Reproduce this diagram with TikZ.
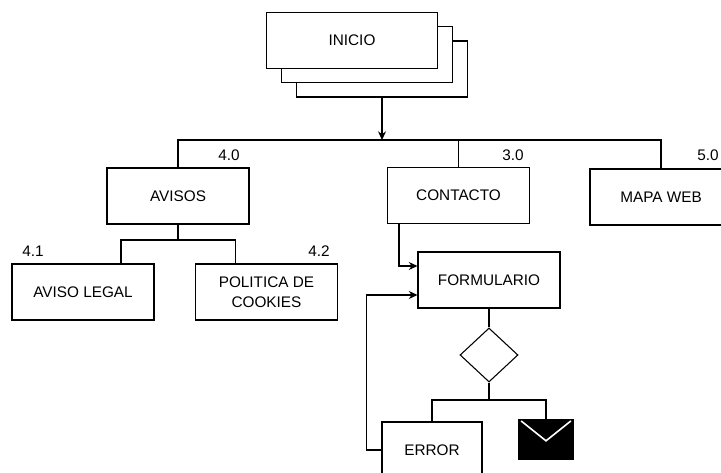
\documentclass[tikz,border=0pt]{standalone}
\usepackage{fontspec}
\setmainfont{Liberation Sans}
\usepackage{tikz}
\usetikzlibrary{positioning,arrows.meta,shapes.geometric}
\tikzset{caja/.style={draw,fill=white,minimum width=106.5pt,minimum height=42pt,inner
sep=0pt,align=center},pila/.style={caja,minimum width=128.25pt}}
\tikzstyle{arrow}     = [-{Stealth[length=6.5pt,width=6pt]}]

\begin{document}
\begin{tikzpicture}[x=0.75pt,y=-0.75pt,line width=0.8pt,
			font=\fontsize{11.5}{15}\selectfont,
			num/.style={inner sep=0pt},
			rombo/.style={draw,diamond,minimum width=43.5pt,minimum height=40.5pt,inner sep=0pt},
			sobre/.style={draw,fill=black,minimum width=40.5pt,minimum height=30pt,inner sep=0pt}]

		\clip (0,0) rectangle (721,473);
		\fill[white] (0,0) rectangle (721,473);

		% inicio (pila de hojas)
		\node[pila] (pila3) at (382,69) {};
		\node[pila] (pila2) at (367,54.5) {};
		\node[pila] (inicio) at (352,40.5) {INICIO};
		\coordinate (bus) at (382,140);
		\draw[arrow] (pila3.south) -- (bus);

		% primer nivel
		\node[caja] (avisos) at (178,196) {AVISOS};
		\node[caja] (contacto) at (458.5,195.5) {CONTACTO};
		\node[caja] (mapa) at (661,197) {MAPA WEB};
		\node[num] (n40) at (229,155) {4.0};
		\node[num] (n30) at (513,155) {3.0};
		\node[num] (n50) at (708,155) {5.0};
		\draw (avisos.north) |- (bus) -| (mapa.north);
		\draw (contacto.north) -- (contacto.north |- bus);

		% avisos
		\node[caja] (legal) at (83,292) {AVISO LEGAL};
		\node[caja] (cookies) at (266.5,292) {POLITICA DE\\COOKIES};
		\node[num] (n41) at (33,251) {4.1};
		\node[num] (n42) at (319,251) {4.2};
		\coordinate (asplit) at (178,240);
		\draw (avisos.south) -- (asplit);
		\draw ([xshift=28.5pt]legal.north) |- (asplit) -| ([xshift=-23.6pt]cookies.north);

		% contacto
		\node[caja] (formulario) at (489,280) {FORMULARIO};
		\node[rombo] (rombo) at (489,355) {};
		\node[caja,minimum width=75pt] (error) at (432,450) {ERROR};
		\node[sobre] (sobre) at (546,439.5) {};
		\draw[white,line width=1.2pt] ([shift={(2pt,-1.5pt)}]sobre.north west) -- ([yshift=-1pt]sobre.center) -- ([shift={(-2pt,-1.5pt)}]sobre.north east);
		\draw[arrow] ([xshift=9pt]contacto.south west) |- ([yshift=10.5pt]formulario.west);
		\draw (formulario.south) -- (rombo.north);
		\coordinate (dsplit) at (489,400);
		\draw (rombo.south) -- (dsplit);
		\draw (error.north) |- (dsplit) -| (sobre.north);
		\draw[arrow] (error.west) -- ++(-15,0) |- ([yshift=-11.25pt]formulario.west);
	\end{tikzpicture}
\end{document}
